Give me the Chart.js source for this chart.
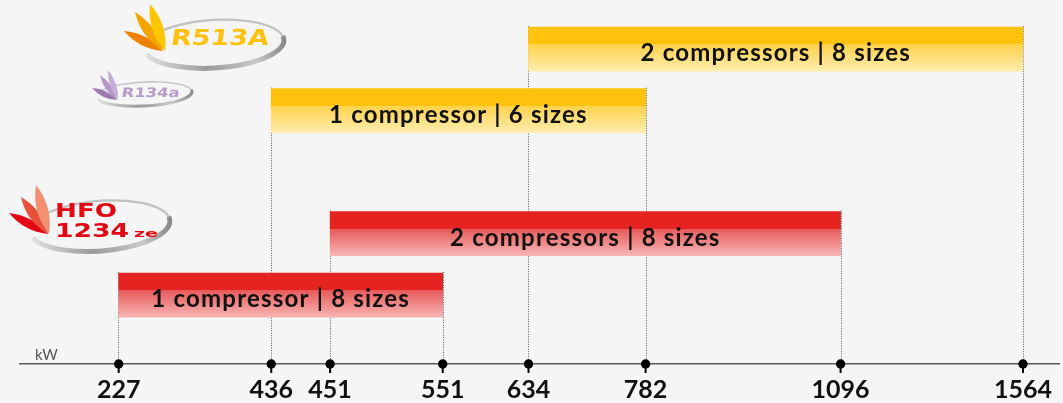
<!DOCTYPE html>
<html><head><meta charset="utf-8">
<script src="https://cdn.jsdelivr.net/npm/chart.js@4"></script>
<style>
html,body{margin:0;padding:0;background:#f5f5f5;overflow:hidden;}
#wrap{width:1063px;height:403px;position:relative;}
</style>
</head><body><div id="wrap"><canvas id="c"></canvas></div>
<script>
// ---- data ----
const refrigerants = ['R513A', 'R134a', 'HFO 1234ze', 'HFO 1234ze'];
const rangeLabels = ['2 compressors | 8 sizes', '1 compressor | 6 sizes', '2 compressors | 8 sizes', '1 compressor | 8 sizes'];
const rangeStart = [634, 436, 451, 227];
const rangeEnd = [1564, 782, 1096, 551];
const rowSlot = [0, 1, 3, 4];
const tickValues = [227, 436, 451, 551, 634, 782, 1096, 1564];
const axisUnit = 'kW';

// ---- piecewise (non-uniform) value scale, like the infographic axis ----
class PiecewiseScale extends Chart.LinearScale {
  _decimalFor(value) {
    const v = tickValues, f = this.options.fractions, n = v.length;
    let i = 0;
    if (value >= v[n - 1]) i = n - 2;
    else if (value > v[0]) { while (i < n - 2 && value > v[i + 1]) i++; }
    const t = (value - v[i]) / (v[i + 1] - v[i]);
    return f[i] + t * (f[i + 1] - f[i]);
  }
  getPixelForValue(value) {
    if (value === null || value === undefined || isNaN(value)) return NaN;
    return this.getPixelForDecimal(this._decimalFor(value));
  }
  getValueForPixel(pixel) {
    const d = this.getDecimalForPixel(pixel), v = tickValues, f = this.options.fractions, n = v.length;
    let i = 0;
    if (d >= f[n - 1]) i = n - 2;
    else if (d > f[0]) { while (i < n - 2 && d > f[i + 1]) i++; }
    const t = (d - f[i]) / (f[i + 1] - f[i]);
    return v[i] + t * (v[i + 1] - v[i]);
  }
}
PiecewiseScale.id = 'piecewise';
PiecewiseScale.defaults = Chart.LinearScale.defaults;
Chart.register(PiecewiseScale);

const PALETTE = {
  yellow: { band: '#FFC30D', top: '#FFD24C', bottom: '#FFEDAE' },
  red: { band: '#E52421', top: '#E85A5A', bottom: '#F7B4B4' }
};
function paletteFor(i) { return refrigerants[i].startsWith('HFO') ? PALETTE.red : PALETTE.yellow; }

function leaf(ctx, bx, by, tx, ty, w, color) {
  const mx = (bx + tx) / 2, my = (by + ty) / 2;
  const dx = tx - bx, dy = ty - by, L = Math.hypot(dx, dy);
  const nx = -dy / L * w, ny = dx / L * w;
  ctx.beginPath(); ctx.moveTo(bx, by);
  ctx.quadraticCurveTo(mx + nx, my + ny, tx, ty);
  ctx.quadraticCurveTo(mx - nx, my - ny, bx, by);
  ctx.fillStyle = color; ctx.fill();
}
function swoosh(ctx, cx, cy, rx, ry, rot, lw) {
  ctx.save();
  ctx.lineWidth = Math.max(1, lw * 0.45); ctx.strokeStyle = 'rgba(190,190,190,0.95)';
  ctx.beginPath(); ctx.ellipse(cx, cy, rx, ry, rot, -Math.PI * 0.9, Math.PI * 0.1); ctx.stroke();
  const g = ctx.createLinearGradient(cx - rx, cy, cx + rx, cy);
  g.addColorStop(0, '#e4e4e4'); g.addColorStop(0.45, '#9a9a9a'); g.addColorStop(0.8, '#c9c9c9'); g.addColorStop(1, '#8a8a8a');
  ctx.strokeStyle = g; ctx.lineWidth = lw;
  ctx.beginPath(); ctx.ellipse(cx, cy, rx, ry, rot, -Math.PI * 0.05, Math.PI * 0.92); ctx.stroke();
  ctx.restore();
}
function logoText(ctx, text, x, base, width, size, color, skew) {
  ctx.save();
  ctx.font = 'bold ' + size + 'px "DejaVu Sans"';
  const w = ctx.measureText(text).width;
  ctx.translate(x, base);
  ctx.transform(1, 0, -skew, 1, 0, 0);
  ctx.scale(width / w, 1);
  ctx.fillStyle = color; ctx.textBaseline = 'alphabetic'; ctx.textAlign = 'left';
  ctx.fillText(text, 0, 0);
  ctx.restore();
}
function drawLogos(ctx) {
  // R513A
  swoosh(ctx, 214, 44, 70, 24, -0.06, 5);
  leaf(ctx, 163, 51, 124, 31, 9, '#EE8100');
  leaf(ctx, 163, 51, 135, 12, 10, '#F6A400');
  leaf(ctx, 165, 51, 150, 4, 11, '#FFC600');
  logoText(ctx, 'R513A', 170, 45, 98, 22, '#FFC20E', 0.15);
  // R134a
  swoosh(ctx, 144, 94, 48, 12, -0.05, 3);
  leaf(ctx, 117, 100, 92, 88, 6, '#9B7AAE');
  leaf(ctx, 117, 100, 100, 75, 6, '#B596C8');
  leaf(ctx, 118, 100, 108, 70, 6, '#C6ABD6');
  logoText(ctx, 'R134a', 121, 97, 58, 13, '#B89BCB', 0.15);
  // HFO 1234ze
  swoosh(ctx, 100, 226, 70, 25, -0.08, 5);
  leaf(ctx, 48, 234, 9, 213, 9, '#E30613');
  leaf(ctx, 48, 234, 21, 197, 10, '#E8503A');
  leaf(ctx, 49, 234, 36, 185, 11, '#F4906F');
  logoText(ctx, 'HFO', 55, 217, 62, 20, '#E30613', 0);
  logoText(ctx, '1234', 55, 237, 74, 20, '#E30613', 0);
  logoText(ctx, 'ze', 134, 237, 24, 11, '#E30613', 0);
}

const deco = {
  id: 'deco',
  beforeDatasetsDraw(chart) {
    const ctx = chart.ctx, axisY = chart.scales.x.top;
    const meta = chart.getDatasetMeta(0);
    ctx.save();
    ctx.strokeStyle = '#555'; ctx.lineWidth = 1; ctx.setLineDash([1, 1.5]);
    meta.data.forEach((el) => {
      const p = el.getProps(['x', 'y', 'base', 'height'], true);
      const top = p.y - p.height / 2 - 1;
      [Math.min(p.x, p.base) - 0.5, Math.max(p.x, p.base) + 0.5].forEach((x) => {
        ctx.beginPath(); ctx.moveTo(Math.round(x) + 0.5, top); ctx.lineTo(Math.round(x) + 0.5, axisY); ctx.stroke();
      });
    });
    ctx.restore();
  },
  afterDatasetsDraw(chart) {
    const ctx = chart.ctx, meta = chart.getDatasetMeta(0);
    ctx.save();
    ctx.font = 'bold 24px Lato';
    try { ctx.letterSpacing = '1.2px'; } catch (e) {}
    ctx.fillStyle = '#111'; ctx.textAlign = 'center'; ctx.textBaseline = 'alphabetic';
    meta.data.forEach((el, i) => {
      const p = el.getProps(['x', 'y', 'base'], true);
      ctx.fillText(rangeLabels[i], (p.x + p.base) / 2, p.y + 12);
    });
    ctx.restore();
  },
  afterDraw(chart) {
    const ctx = chart.ctx, xs = chart.scales.x, axisY = xs.top;
    ctx.save();
    ctx.fillStyle = '#000';
    tickValues.forEach((v) => {
      const x = xs.getPixelForValue(v);
      ctx.beginPath(); ctx.arc(x, axisY, 4.7, 0, Math.PI * 2); ctx.fill();
      ctx.fillRect(x - 1, axisY, 2, 9);
    });
    ctx.font = '15px Lato'; ctx.fillStyle = '#555'; ctx.textAlign = 'left'; ctx.textBaseline = 'alphabetic';
    ctx.fillText(axisUnit, chart.chartArea.left + 15, axisY - 4);
    drawLogos(ctx);
    ctx.restore();
  }
};

new Chart(document.getElementById('c'), {
  type: 'bar',
  data: {
    labels: refrigerants,
    datasets: [{
      data: rangeStart.map((s, i) => ({ x: [s, rangeEnd[i]], y: rowSlot[i] })),
      barThickness: 44,
      borderWidth: 0,
      borderSkipped: false,
      backgroundColor: (c) => {
        const i = c.dataIndex, chart = c.chart, ys = chart.scales.y;
        if (i === undefined) return PALETTE.yellow.band;
        const pal = paletteFor(i);
        if (!ys) return pal.band;
        const mid = ys.getPixelForValue(rowSlot[i]);
        if (!isFinite(mid)) return pal.band;
        const g = chart.ctx.createLinearGradient(0, mid - 22, 0, mid + 22);
        g.addColorStop(0, pal.band); g.addColorStop(0.385, pal.band);
        g.addColorStop(0.39, pal.top); g.addColorStop(1, pal.bottom);
        return g;
      }
    }]
  },
  options: {
    indexAxis: 'y',
    responsive: true,
    maintainAspectRatio: false,
    animation: false,
    devicePixelRatio: 1,
    layout: { padding: { left: 20, right: -3, top: 0, bottom: -13 } },
    plugins: { legend: { display: false }, tooltip: { enabled: false } },
    scales: {
      x: {
        type: 'piecewise',
        min: 92, max: 1659,
        fractions: [0.0949, 0.2416, 0.2982, 0.4065, 0.4890, 0.6016, 0.7891, 0.9645],
        afterBuildTicks: (s) => { s.ticks = tickValues.map((v) => ({ value: v })); },
        grid: { display: false, drawTicks: false },
        border: { display: true, color: '#5a5a5a', width: 1.5 },
        ticks: {
          autoSkip: false, maxRotation: 0, padding: 11, color: '#111',
          font: { family: 'Lato', weight: 'bold', size: 25 },
          callback: (v) => String(v)
        }
      },
      y: {
        type: 'linear', reverse: true, offset: false, min: -0.8, max: 5.12, display: false
      }
    }
  },
  plugins: [deco]
});
</script>
</body></html>
